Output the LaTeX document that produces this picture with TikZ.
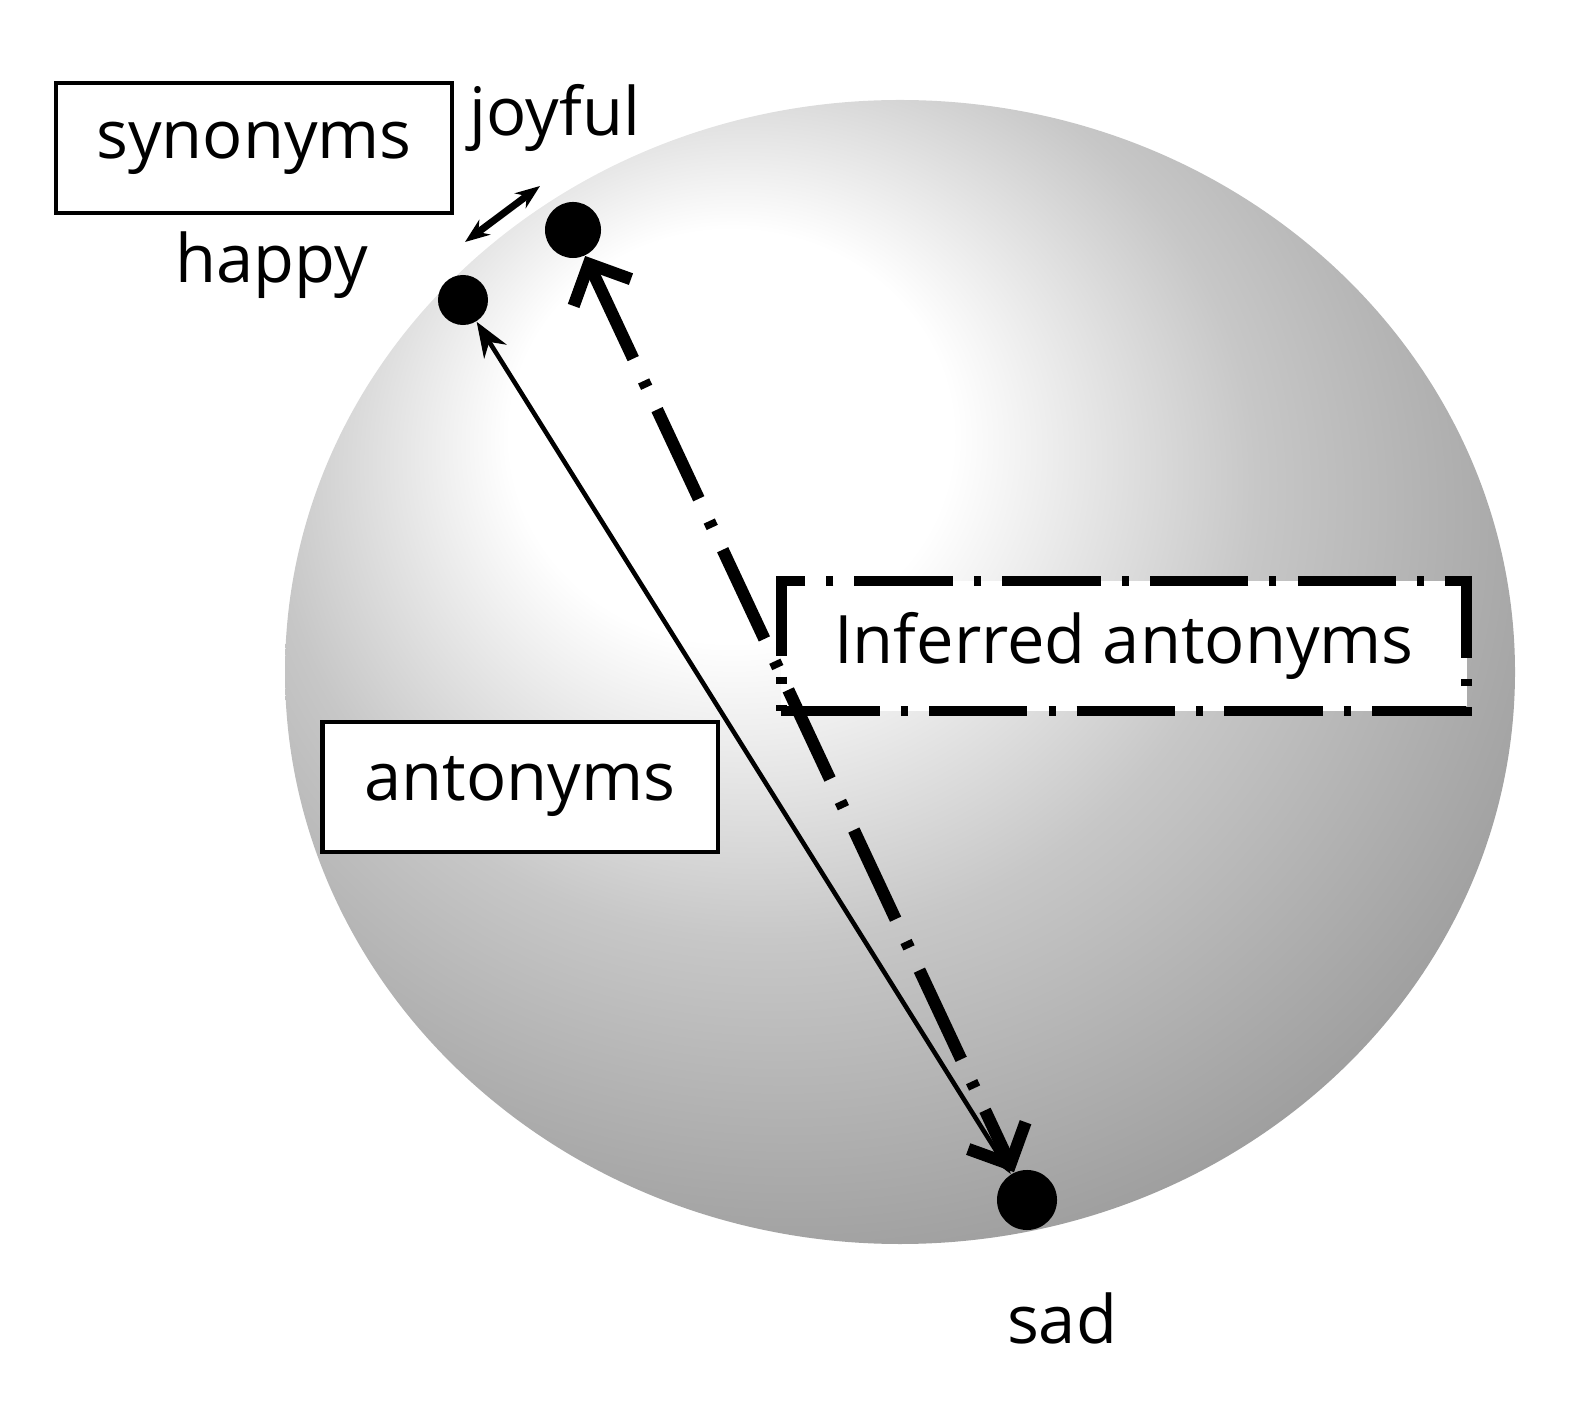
\documentclass[tikz,border=0pt]{standalone}
\usepackage{fontspec}
\setmainfont{Open Sans}
\usetikzlibrary{arrows.meta}
\pgfdeclareradialshading{sph}{\pgfpoint{-8bp}{12bp}}{color(0bp)=(white); color(9bp)=(white); color(20bp)=(black!22); color(34bp)=(black!40); color(44bp)=(black!55); color(50bp)=(black!75); color(56bp)=(black!95); color(64bp)=(black)}
\begin{document}
\begin{tikzpicture}[x=0.01cm,y=-0.01cm,
  lbl/.style={font=\fontsize{19}{23}\selectfont, inner sep=0pt},
  boxed/.style={draw, line width=1.2pt, fill=white, font=\fontsize{19}{23}\selectfont, inner sep=0pt, minimum height=1.3cm},
  dotn/.style={circle, fill=black, inner sep=0pt}]
\useasboundingbox (0,0) rectangle (1582,1410);
\shade[shading=sph] (900,672) ellipse [x radius=615, y radius=-572];
\node[dotn, minimum size=0.5cm] (happy) at (463,300) {};
\node[dotn, minimum size=0.56cm] (joyful) at (573,230) {};
\node[dotn, minimum size=0.6cm] (sad) at (1027,1200) {};
\node[boxed, minimum width=3.95cm] (syn) at (254,148) {synonyms};
\node[boxed, minimum width=3.95cm] (ant) at (520,787) {antonyms};
\node[draw, line width=3pt, dash pattern=on 28pt off 6pt on 2pt off 6pt, fill=white, font=\fontsize{19}{23}\selectfont, minimum width=6.85cm, minimum height=1.3cm] (inf) at (1124,646) {Inferred antonyms};
\node[lbl] at (555,118) {joyful};
\node[lbl] at (272,265) {happy};
\node[lbl] at (1062,1318) {sad};
\draw[{Stealth[length=7pt]}-{Stealth[length=7pt]}, line width=2pt] (465,242) -- (540,186);
\draw[{Stealth[length=10pt]}-{Stealth[length=10pt]}, line width=1.3pt] (happy) -- (sad);
\draw[{Straight Barb[length=9pt]}-{Straight Barb[length=9pt]}, line width=3.5pt, dash pattern=on 28pt off 7pt on 2pt off 7pt] (joyful) -- (sad);
\end{tikzpicture}
\end{document}
